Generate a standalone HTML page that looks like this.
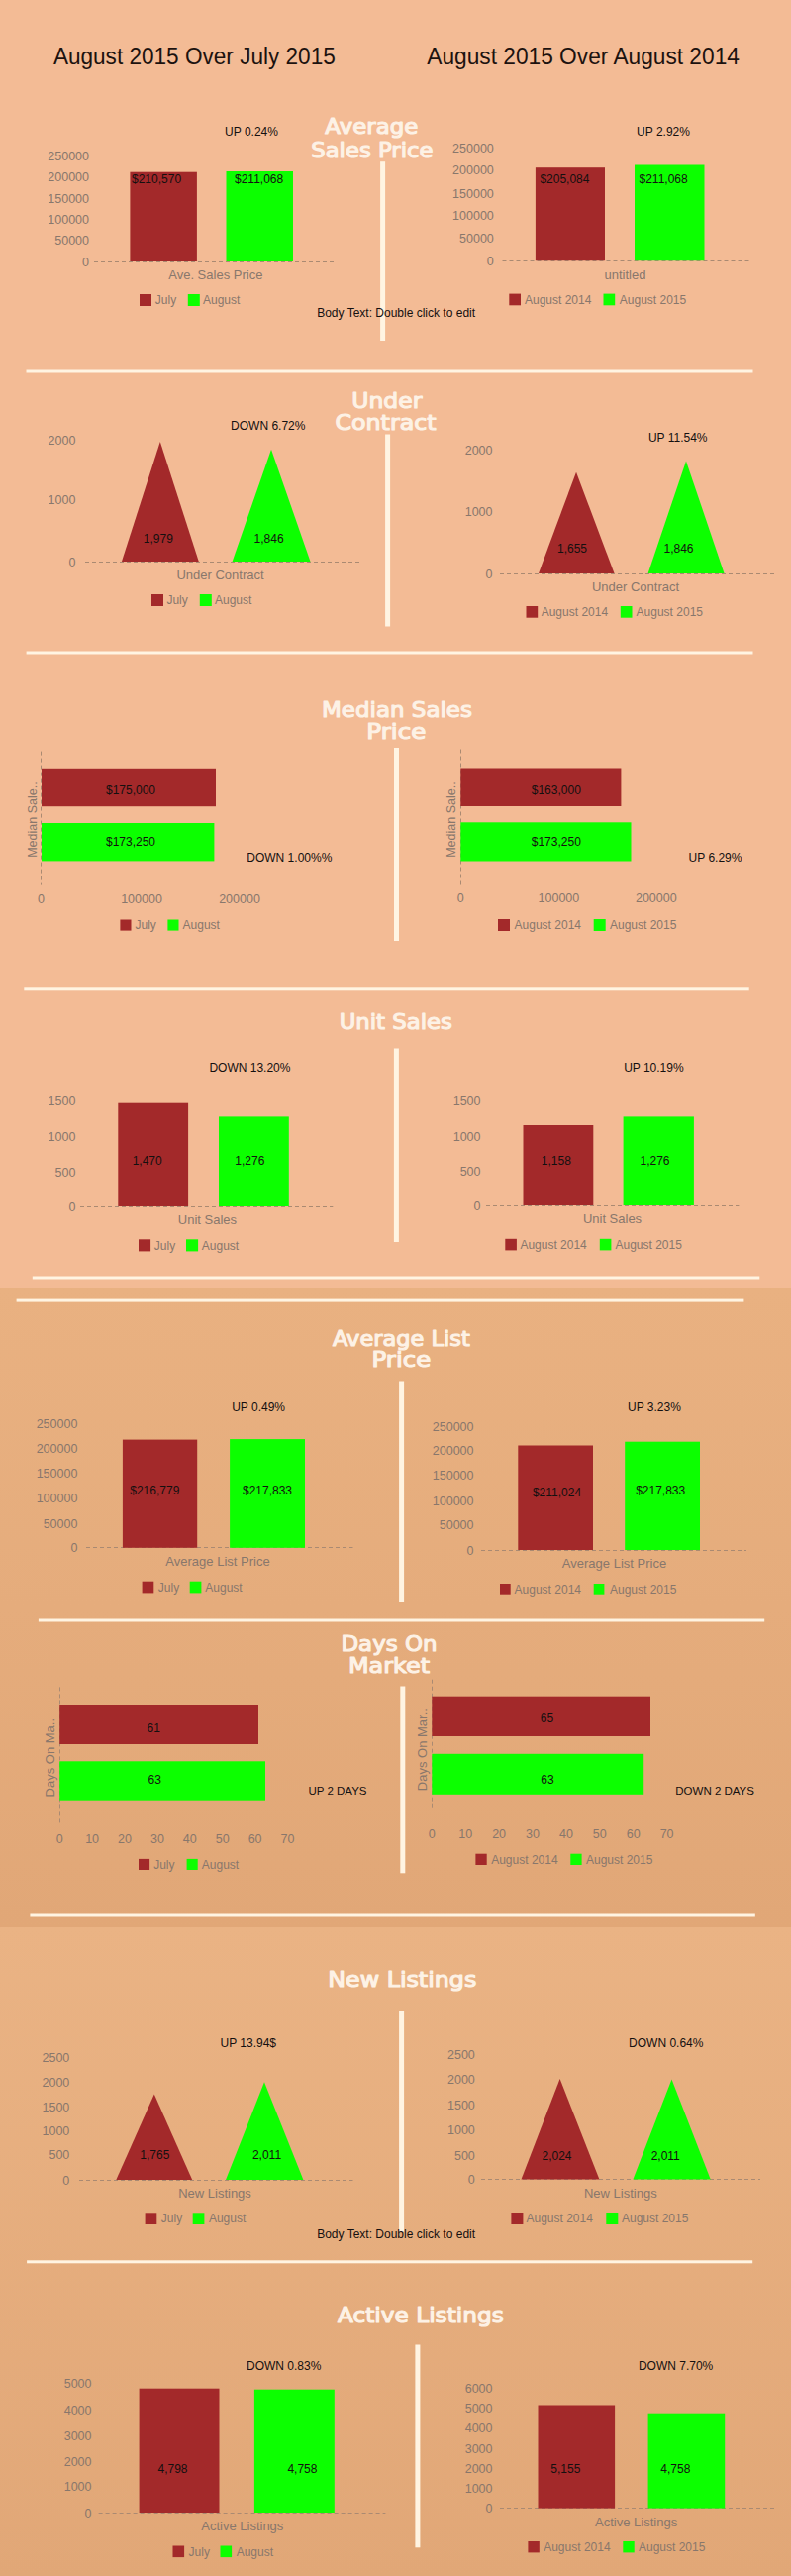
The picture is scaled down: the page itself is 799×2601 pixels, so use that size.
<!DOCTYPE html>
<html><head><meta charset="utf-8"><title>Market Report</title>
<style>
html,body{margin:0;padding:0;width:799px;height:2601px;overflow:hidden;background:#F3BB95;}
svg{display:block;}
</style></head><body>
<svg width="799" height="2601" viewBox="0 0 799 2601">
<rect x="0.0" y="0.0" width="799.0" height="1301.0" fill="#F3BB95"/>
<defs><linearGradient id="g2" x1="0" y1="0" x2="0" y2="1"><stop offset="0" stop-color="#E9B181"/><stop offset="1" stop-color="#E1A777"/></linearGradient><linearGradient id="g3" x1="0" y1="0" x2="0" y2="1"><stop offset="0" stop-color="#EAB384"/><stop offset="1" stop-color="#E1A777"/></linearGradient></defs>
<rect x="0.0" y="1301.0" width="799.0" height="645.0" fill="url(#g2)"/>
<rect x="0.0" y="1946.0" width="799.0" height="655.0" fill="url(#g3)"/>
<line x1="505.0" y1="2532.5" x2="782.6" y2="2532.5" stroke="#AA8A72" stroke-width="1" stroke-dasharray="4,3"/>
<line x1="99.6" y1="2537.5" x2="389.4" y2="2537.5" stroke="#AA8A72" stroke-width="1" stroke-dasharray="4,3"/>
<line x1="486.0" y1="2200.5" x2="768.0" y2="2200.5" stroke="#AA8A72" stroke-width="1" stroke-dasharray="4,3"/>
<line x1="80.0" y1="2201.5" x2="356.5" y2="2201.5" stroke="#AA8A72" stroke-width="1" stroke-dasharray="4,3"/>
<line x1="436.5" y1="1695.7" x2="436.5" y2="1828.0" stroke="#AA8A72" stroke-width="1" stroke-dasharray="4,3"/>
<line x1="60.5" y1="1703.4" x2="60.5" y2="1842.5" stroke="#AA8A72" stroke-width="1" stroke-dasharray="4,3"/>
<line x1="486.0" y1="1565.5" x2="754.0" y2="1565.5" stroke="#AA8A72" stroke-width="1" stroke-dasharray="4,3"/>
<line x1="87.0" y1="1562.5" x2="356.5" y2="1562.5" stroke="#AA8A72" stroke-width="1" stroke-dasharray="4,3"/>
<line x1="491.0" y1="1217.5" x2="746.4" y2="1217.5" stroke="#AA8A72" stroke-width="1" stroke-dasharray="4,3"/>
<line x1="81.0" y1="1218.5" x2="336.3" y2="1218.5" stroke="#AA8A72" stroke-width="1" stroke-dasharray="4,3"/>
<line x1="465.5" y1="756.5" x2="465.5" y2="894.7" stroke="#AA8A72" stroke-width="1" stroke-dasharray="4,3"/>
<line x1="41.5" y1="758.6" x2="41.5" y2="893.6" stroke="#AA8A72" stroke-width="1" stroke-dasharray="4,3"/>
<line x1="505.0" y1="579.5" x2="782.6" y2="579.5" stroke="#AA8A72" stroke-width="1" stroke-dasharray="4,3"/>
<line x1="86.0" y1="567.5" x2="365.0" y2="567.5" stroke="#AA8A72" stroke-width="1" stroke-dasharray="4,3"/>
<line x1="507.5" y1="263.5" x2="757.0" y2="263.5" stroke="#AA8A72" stroke-width="1" stroke-dasharray="4,3"/>
<line x1="95.0" y1="264.5" x2="339.0" y2="264.5" stroke="#AA8A72" stroke-width="1" stroke-dasharray="4,3"/>
<text x="53.9" y="64.5" font-size="23.3" fill="#1C120F" text-anchor="start" font-family="'Liberation Sans', Arial, sans-serif" font-weight="normal" textLength="284.9" lengthAdjust="spacingAndGlyphs">August 2015 Over July 2015</text>
<text x="431.3" y="64.7" font-size="23.3" fill="#1C120F" text-anchor="start" font-family="'Liberation Sans', Arial, sans-serif" font-weight="normal" textLength="315.6" lengthAdjust="spacingAndGlyphs">August 2015 Over August 2014</text>
<text x="375.3" y="135.4" textLength="93.9" lengthAdjust="spacingAndGlyphs" font-size="20.5" fill="#FDF2E6" stroke="#FDF2E6" stroke-width="1.1" stroke-linejoin="round" text-anchor="middle" font-family="'DejaVu Sans', 'Liberation Sans', sans-serif">Average</text>
<text x="375.9" y="158.7" textLength="123.4" lengthAdjust="spacingAndGlyphs" font-size="20.5" fill="#FDF2E6" stroke="#FDF2E6" stroke-width="1.1" stroke-linejoin="round" text-anchor="middle" font-family="'DejaVu Sans', 'Liberation Sans', sans-serif">Sales Price</text>
<rect x="384.1" y="163.2" width="5.0" height="180.8" fill="#FFF4E2"/>
<text x="90.0" y="161.9" font-size="12.5" fill="#88776C" text-anchor="end" font-family="'Liberation Sans', Arial, sans-serif" font-weight="normal">250000</text>
<text x="90.0" y="183.1" font-size="12.5" fill="#88776C" text-anchor="end" font-family="'Liberation Sans', Arial, sans-serif" font-weight="normal">200000</text>
<text x="90.0" y="204.8" font-size="12.5" fill="#88776C" text-anchor="end" font-family="'Liberation Sans', Arial, sans-serif" font-weight="normal">150000</text>
<text x="90.0" y="225.5" font-size="12.5" fill="#88776C" text-anchor="end" font-family="'Liberation Sans', Arial, sans-serif" font-weight="normal">100000</text>
<text x="90.0" y="247.2" font-size="12.5" fill="#88776C" text-anchor="end" font-family="'Liberation Sans', Arial, sans-serif" font-weight="normal">50000</text>
<text x="90.0" y="268.5" font-size="12.5" fill="#88776C" text-anchor="end" font-family="'Liberation Sans', Arial, sans-serif" font-weight="normal">0</text>
<rect x="131.4" y="173.7" width="67.5" height="90.3" fill="#A3292A"/>
<rect x="228.5" y="173.0" width="67.5" height="91.0" fill="#0CFF00"/>
<text x="133.0" y="184.8" font-size="12" fill="#141010" text-anchor="start" font-family="'Liberation Sans', Arial, sans-serif" font-weight="normal">$210,570</text>
<text x="237.0" y="184.8" font-size="12" fill="#141010" text-anchor="start" font-family="'Liberation Sans', Arial, sans-serif" font-weight="normal">$211,068</text>
<text x="254.0" y="137.0" font-size="12" fill="#141010" text-anchor="middle" font-family="'Liberation Sans', Arial, sans-serif" font-weight="normal">UP 0.24%</text>
<text x="217.8" y="281.7" font-size="13" fill="#88776C" text-anchor="middle" font-family="'Liberation Sans', Arial, sans-serif" font-weight="normal">Ave. Sales Price</text>
<rect x="141.0" y="297.0" width="12.0" height="12.0" fill="#A3292A"/>
<rect x="189.8" y="297.0" width="12.0" height="12.0" fill="#0CFF00"/>
<text x="156.8" y="307.3" font-size="12" fill="#88776C" text-anchor="start" font-family="'Liberation Sans', Arial, sans-serif" font-weight="normal">July</text>
<text x="205.0" y="307.3" font-size="12" fill="#88776C" text-anchor="start" font-family="'Liberation Sans', Arial, sans-serif" font-weight="normal">August</text>
<text x="498.8" y="153.5" font-size="12.5" fill="#88776C" text-anchor="end" font-family="'Liberation Sans', Arial, sans-serif" font-weight="normal">250000</text>
<text x="498.8" y="176.3" font-size="12.5" fill="#88776C" text-anchor="end" font-family="'Liberation Sans', Arial, sans-serif" font-weight="normal">200000</text>
<text x="498.8" y="199.5" font-size="12.5" fill="#88776C" text-anchor="end" font-family="'Liberation Sans', Arial, sans-serif" font-weight="normal">150000</text>
<text x="498.8" y="222.2" font-size="12.5" fill="#88776C" text-anchor="end" font-family="'Liberation Sans', Arial, sans-serif" font-weight="normal">100000</text>
<text x="498.8" y="244.5" font-size="12.5" fill="#88776C" text-anchor="end" font-family="'Liberation Sans', Arial, sans-serif" font-weight="normal">50000</text>
<text x="498.8" y="267.7" font-size="12.5" fill="#88776C" text-anchor="end" font-family="'Liberation Sans', Arial, sans-serif" font-weight="normal">0</text>
<rect x="540.9" y="169.2" width="70.1" height="94.0" fill="#A3292A"/>
<rect x="641.0" y="166.5" width="70.5" height="96.7" fill="#0CFF00"/>
<text x="545.4" y="185.3" font-size="12" fill="#141010" text-anchor="start" font-family="'Liberation Sans', Arial, sans-serif" font-weight="normal">$205,084</text>
<text x="645.5" y="185.3" font-size="12" fill="#141010" text-anchor="start" font-family="'Liberation Sans', Arial, sans-serif" font-weight="normal">$211,068</text>
<text x="670.0" y="137.0" font-size="12" fill="#141010" text-anchor="middle" font-family="'Liberation Sans', Arial, sans-serif" font-weight="normal">UP 2.92%</text>
<text x="631.5" y="281.6" font-size="13" fill="#88776C" text-anchor="middle" font-family="'Liberation Sans', Arial, sans-serif" font-weight="normal">untitled</text>
<rect x="514.3" y="296.6" width="11.7" height="11.7" fill="#A3292A"/>
<rect x="609.5" y="296.6" width="11.7" height="11.7" fill="#0CFF00"/>
<text x="530.0" y="306.7" font-size="12" fill="#88776C" text-anchor="start" font-family="'Liberation Sans', Arial, sans-serif" font-weight="normal">August 2014</text>
<text x="625.8" y="306.7" font-size="12" fill="#88776C" text-anchor="start" font-family="'Liberation Sans', Arial, sans-serif" font-weight="normal">August 2015</text>
<text x="320.2" y="320.0" font-size="12" fill="#141010" text-anchor="start" font-family="'Liberation Sans', Arial, sans-serif" font-weight="normal">Body Text: Double click to edit</text>
<rect x="26.5" y="373.5" width="734.0" height="3.0" fill="#FFF4E2"/>
<text x="390.8" y="411.7" textLength="71.1" lengthAdjust="spacingAndGlyphs" font-size="20.5" fill="#FDF2E6" stroke="#FDF2E6" stroke-width="1.1" stroke-linejoin="round" text-anchor="middle" font-family="'DejaVu Sans', 'Liberation Sans', sans-serif">Under</text>
<text x="389.5" y="434.4" textLength="102.1" lengthAdjust="spacingAndGlyphs" font-size="20.5" fill="#FDF2E6" stroke="#FDF2E6" stroke-width="1.1" stroke-linejoin="round" text-anchor="middle" font-family="'DejaVu Sans', 'Liberation Sans', sans-serif">Contract</text>
<rect x="389.1" y="438.5" width="5.0" height="194.0" fill="#FFF4E2"/>
<text x="76.4" y="448.5" font-size="12.5" fill="#88776C" text-anchor="end" font-family="'Liberation Sans', Arial, sans-serif" font-weight="normal">2000</text>
<text x="76.4" y="509.2" font-size="12.5" fill="#88776C" text-anchor="end" font-family="'Liberation Sans', Arial, sans-serif" font-weight="normal">1000</text>
<text x="76.4" y="571.5" font-size="12.5" fill="#88776C" text-anchor="end" font-family="'Liberation Sans', Arial, sans-serif" font-weight="normal">0</text>
<polygon points="161.8,446.0 200.8,567.0 122.9,567.0" fill="#A3292A"/>
<polygon points="274.0,453.7 313.5,567.0 234.6,567.0" fill="#0CFF00"/>
<text x="270.8" y="434.3" font-size="12" fill="#141010" text-anchor="middle" font-family="'Liberation Sans', Arial, sans-serif" font-weight="normal">DOWN 6.72%</text>
<text x="159.8" y="548.3" font-size="12" fill="#141010" text-anchor="middle" font-family="'Liberation Sans', Arial, sans-serif" font-weight="normal">1,979</text>
<text x="271.6" y="548.3" font-size="12" fill="#141010" text-anchor="middle" font-family="'Liberation Sans', Arial, sans-serif" font-weight="normal">1,846</text>
<text x="222.5" y="585.3" font-size="13" fill="#88776C" text-anchor="middle" font-family="'Liberation Sans', Arial, sans-serif" font-weight="normal">Under Contract</text>
<rect x="153.0" y="600.0" width="12.0" height="12.0" fill="#A3292A"/>
<rect x="201.8" y="600.0" width="12.0" height="12.0" fill="#0CFF00"/>
<text x="168.4" y="610.3" font-size="12" fill="#88776C" text-anchor="start" font-family="'Liberation Sans', Arial, sans-serif" font-weight="normal">July</text>
<text x="217.0" y="610.3" font-size="12" fill="#88776C" text-anchor="start" font-family="'Liberation Sans', Arial, sans-serif" font-weight="normal">August</text>
<text x="497.5" y="459.1" font-size="12.5" fill="#88776C" text-anchor="end" font-family="'Liberation Sans', Arial, sans-serif" font-weight="normal">2000</text>
<text x="497.5" y="521.0" font-size="12.5" fill="#88776C" text-anchor="end" font-family="'Liberation Sans', Arial, sans-serif" font-weight="normal">1000</text>
<text x="497.5" y="583.5" font-size="12.5" fill="#88776C" text-anchor="end" font-family="'Liberation Sans', Arial, sans-serif" font-weight="normal">0</text>
<polygon points="582.0,476.7 620.5,579.0 544.0,579.0" fill="#A3292A"/>
<polygon points="693.0,465.4 731.5,579.0 654.6,579.0" fill="#0CFF00"/>
<text x="684.7" y="445.7" font-size="12" fill="#141010" text-anchor="middle" font-family="'Liberation Sans', Arial, sans-serif" font-weight="normal">UP 11.54%</text>
<text x="578.0" y="558.0" font-size="12" fill="#141010" text-anchor="middle" font-family="'Liberation Sans', Arial, sans-serif" font-weight="normal">1,655</text>
<text x="685.5" y="558.0" font-size="12" fill="#141010" text-anchor="middle" font-family="'Liberation Sans', Arial, sans-serif" font-weight="normal">1,846</text>
<text x="642.0" y="596.7" font-size="13" fill="#88776C" text-anchor="middle" font-family="'Liberation Sans', Arial, sans-serif" font-weight="normal">Under Contract</text>
<rect x="531.5" y="612.0" width="11.7" height="11.7" fill="#A3292A"/>
<rect x="626.8" y="612.0" width="11.7" height="11.7" fill="#0CFF00"/>
<text x="546.7" y="622.1" font-size="12" fill="#88776C" text-anchor="start" font-family="'Liberation Sans', Arial, sans-serif" font-weight="normal">August 2014</text>
<text x="642.6" y="622.1" font-size="12" fill="#88776C" text-anchor="start" font-family="'Liberation Sans', Arial, sans-serif" font-weight="normal">August 2015</text>
<rect x="26.6" y="657.5" width="733.9" height="3.0" fill="#FFF4E2"/>
<text x="401.0" y="724.4" textLength="151.9" lengthAdjust="spacingAndGlyphs" font-size="20.5" fill="#FDF2E6" stroke="#FDF2E6" stroke-width="1.1" stroke-linejoin="round" text-anchor="middle" font-family="'DejaVu Sans', 'Liberation Sans', sans-serif">Median Sales</text>
<text x="400.3" y="746.4" textLength="60.1" lengthAdjust="spacingAndGlyphs" font-size="20.5" fill="#FDF2E6" stroke="#FDF2E6" stroke-width="1.1" stroke-linejoin="round" text-anchor="middle" font-family="'DejaVu Sans', 'Liberation Sans', sans-serif">Price</text>
<rect x="398.0" y="755.0" width="5.0" height="195.0" fill="#FFF4E2"/>
<rect x="42.0" y="775.8" width="176.0" height="38.4" fill="#A3292A"/>
<rect x="42.0" y="831.0" width="174.4" height="38.4" fill="#0CFF00"/>
<text transform="translate(37.2 865.8) rotate(-90)" x="0" y="0" font-size="12.5" fill="#88776C" font-family="'Liberation Sans', Arial, sans-serif">Median Sale..</text>
<text x="132.0" y="802.3" font-size="12" fill="#141010" text-anchor="middle" font-family="'Liberation Sans', Arial, sans-serif" font-weight="normal">$175,000</text>
<text x="132.0" y="853.9" font-size="12" fill="#141010" text-anchor="middle" font-family="'Liberation Sans', Arial, sans-serif" font-weight="normal">$173,250</text>
<text x="249.3" y="869.6" font-size="12" fill="#141010" text-anchor="start" font-family="'Liberation Sans', Arial, sans-serif" font-weight="normal">DOWN 1.00%%</text>
<text x="41.5" y="912.3" font-size="12.5" fill="#88776C" text-anchor="middle" font-family="'Liberation Sans', Arial, sans-serif" font-weight="normal">0</text>
<text x="143.0" y="912.3" font-size="12.5" fill="#88776C" text-anchor="middle" font-family="'Liberation Sans', Arial, sans-serif" font-weight="normal">100000</text>
<text x="242.0" y="912.3" font-size="12.5" fill="#88776C" text-anchor="middle" font-family="'Liberation Sans', Arial, sans-serif" font-weight="normal">200000</text>
<rect x="121.4" y="928.5" width="11.1" height="11.1" fill="#A3292A"/>
<rect x="169.4" y="928.5" width="11.1" height="11.1" fill="#0CFF00"/>
<text x="136.5" y="938.3" font-size="12" fill="#88776C" text-anchor="start" font-family="'Liberation Sans', Arial, sans-serif" font-weight="normal">July</text>
<text x="184.6" y="938.3" font-size="12" fill="#88776C" text-anchor="start" font-family="'Liberation Sans', Arial, sans-serif" font-weight="normal">August</text>
<rect x="465.3" y="775.5" width="162.1" height="38.5" fill="#A3292A"/>
<rect x="465.3" y="830.3" width="172.2" height="39.2" fill="#0CFF00"/>
<text transform="translate(460.2 865.8) rotate(-90)" x="0" y="0" font-size="12.5" fill="#88776C" font-family="'Liberation Sans', Arial, sans-serif">Median Sale..</text>
<text x="561.8" y="802.3" font-size="12" fill="#141010" text-anchor="middle" font-family="'Liberation Sans', Arial, sans-serif" font-weight="normal">$163,000</text>
<text x="561.8" y="853.6" font-size="12" fill="#141010" text-anchor="middle" font-family="'Liberation Sans', Arial, sans-serif" font-weight="normal">$173,250</text>
<text x="695.6" y="870.0" font-size="12" fill="#141010" text-anchor="start" font-family="'Liberation Sans', Arial, sans-serif" font-weight="normal">UP 6.29%</text>
<text x="465.3" y="911.2" font-size="12.5" fill="#88776C" text-anchor="middle" font-family="'Liberation Sans', Arial, sans-serif" font-weight="normal">0</text>
<text x="564.4" y="911.2" font-size="12.5" fill="#88776C" text-anchor="middle" font-family="'Liberation Sans', Arial, sans-serif" font-weight="normal">100000</text>
<text x="662.8" y="911.2" font-size="12.5" fill="#88776C" text-anchor="middle" font-family="'Liberation Sans', Arial, sans-serif" font-weight="normal">200000</text>
<rect x="503.0" y="928.0" width="12.0" height="12.0" fill="#A3292A"/>
<rect x="599.7" y="928.0" width="12.0" height="12.0" fill="#0CFF00"/>
<text x="519.6" y="938.3" font-size="12" fill="#88776C" text-anchor="start" font-family="'Liberation Sans', Arial, sans-serif" font-weight="normal">August 2014</text>
<text x="616.0" y="938.3" font-size="12" fill="#88776C" text-anchor="start" font-family="'Liberation Sans', Arial, sans-serif" font-weight="normal">August 2015</text>
<rect x="24.3" y="997.3" width="732.4" height="3.0" fill="#FFF4E2"/>
<text x="399.8" y="1039.4" textLength="114.3" lengthAdjust="spacingAndGlyphs" font-size="20.5" fill="#FDF2E6" stroke="#FDF2E6" stroke-width="1.1" stroke-linejoin="round" text-anchor="middle" font-family="'DejaVu Sans', 'Liberation Sans', sans-serif">Unit Sales</text>
<rect x="397.9" y="1058.5" width="5.0" height="195.5" fill="#FFF4E2"/>
<text x="76.4" y="1116.2" font-size="12.5" fill="#88776C" text-anchor="end" font-family="'Liberation Sans', Arial, sans-serif" font-weight="normal">1500</text>
<text x="76.4" y="1151.5" font-size="12.5" fill="#88776C" text-anchor="end" font-family="'Liberation Sans', Arial, sans-serif" font-weight="normal">1000</text>
<text x="76.4" y="1187.5" font-size="12.5" fill="#88776C" text-anchor="end" font-family="'Liberation Sans', Arial, sans-serif" font-weight="normal">500</text>
<text x="76.4" y="1222.5" font-size="12.5" fill="#88776C" text-anchor="end" font-family="'Liberation Sans', Arial, sans-serif" font-weight="normal">0</text>
<rect x="119.3" y="1113.7" width="70.8" height="104.3" fill="#A3292A"/>
<rect x="221.0" y="1127.4" width="70.8" height="90.6" fill="#0CFF00"/>
<text x="252.4" y="1082.1" font-size="12" fill="#141010" text-anchor="middle" font-family="'Liberation Sans', Arial, sans-serif" font-weight="normal">DOWN 13.20%</text>
<text x="148.7" y="1175.7" font-size="12" fill="#141010" text-anchor="middle" font-family="'Liberation Sans', Arial, sans-serif" font-weight="normal">1,470</text>
<text x="252.3" y="1175.7" font-size="12" fill="#141010" text-anchor="middle" font-family="'Liberation Sans', Arial, sans-serif" font-weight="normal">1,276</text>
<text x="209.4" y="1236.3" font-size="13" fill="#88776C" text-anchor="middle" font-family="'Liberation Sans', Arial, sans-serif" font-weight="normal">Unit Sales</text>
<rect x="140.0" y="1251.3" width="12.1" height="12.1" fill="#A3292A"/>
<rect x="188.0" y="1251.3" width="12.1" height="12.1" fill="#0CFF00"/>
<text x="155.8" y="1261.6" font-size="12" fill="#88776C" text-anchor="start" font-family="'Liberation Sans', Arial, sans-serif" font-weight="normal">July</text>
<text x="203.8" y="1261.6" font-size="12" fill="#88776C" text-anchor="start" font-family="'Liberation Sans', Arial, sans-serif" font-weight="normal">August</text>
<text x="485.5" y="1116.2" font-size="12.5" fill="#88776C" text-anchor="end" font-family="'Liberation Sans', Arial, sans-serif" font-weight="normal">1500</text>
<text x="485.5" y="1151.5" font-size="12.5" fill="#88776C" text-anchor="end" font-family="'Liberation Sans', Arial, sans-serif" font-weight="normal">1000</text>
<text x="485.5" y="1186.5" font-size="12.5" fill="#88776C" text-anchor="end" font-family="'Liberation Sans', Arial, sans-serif" font-weight="normal">500</text>
<text x="485.5" y="1221.5" font-size="12.5" fill="#88776C" text-anchor="end" font-family="'Liberation Sans', Arial, sans-serif" font-weight="normal">0</text>
<rect x="528.5" y="1136.0" width="70.8" height="81.0" fill="#A3292A"/>
<rect x="629.6" y="1127.4" width="71.3" height="89.6" fill="#0CFF00"/>
<text x="660.4" y="1082.1" font-size="12" fill="#141010" text-anchor="middle" font-family="'Liberation Sans', Arial, sans-serif" font-weight="normal">UP 10.19%</text>
<text x="561.8" y="1175.7" font-size="12" fill="#141010" text-anchor="middle" font-family="'Liberation Sans', Arial, sans-serif" font-weight="normal">1,158</text>
<text x="661.5" y="1175.7" font-size="12" fill="#141010" text-anchor="middle" font-family="'Liberation Sans', Arial, sans-serif" font-weight="normal">1,276</text>
<text x="618.5" y="1235.2" font-size="13" fill="#88776C" text-anchor="middle" font-family="'Liberation Sans', Arial, sans-serif" font-weight="normal">Unit Sales</text>
<rect x="510.3" y="1250.8" width="11.6" height="11.6" fill="#A3292A"/>
<rect x="605.8" y="1250.8" width="11.6" height="11.6" fill="#0CFF00"/>
<text x="525.4" y="1260.9" font-size="12" fill="#88776C" text-anchor="start" font-family="'Liberation Sans', Arial, sans-serif" font-weight="normal">August 2014</text>
<text x="621.5" y="1260.9" font-size="12" fill="#88776C" text-anchor="start" font-family="'Liberation Sans', Arial, sans-serif" font-weight="normal">August 2015</text>
<rect x="32.8" y="1288.5" width="734.5" height="3.0" fill="#FFF4E2"/>
<rect x="16.6" y="1311.6" width="734.8" height="3.0" fill="#FFF4E2"/>
<text x="405.4" y="1358.6" textLength="138.7" lengthAdjust="spacingAndGlyphs" font-size="20.5" fill="#FDF2E6" stroke="#FDF2E6" stroke-width="1.1" stroke-linejoin="round" text-anchor="middle" font-family="'DejaVu Sans', 'Liberation Sans', sans-serif">Average List</text>
<text x="405.4" y="1380.0" textLength="59.7" lengthAdjust="spacingAndGlyphs" font-size="20.5" fill="#FDF2E6" stroke="#FDF2E6" stroke-width="1.1" stroke-linejoin="round" text-anchor="middle" font-family="'DejaVu Sans', 'Liberation Sans', sans-serif">Price</text>
<rect x="403.1" y="1394.5" width="5.0" height="223.5" fill="#FFF4E2"/>
<text x="78.4" y="1441.5" font-size="12.5" fill="#88776C" text-anchor="end" font-family="'Liberation Sans', Arial, sans-serif" font-weight="normal">250000</text>
<text x="78.4" y="1466.7" font-size="12.5" fill="#88776C" text-anchor="end" font-family="'Liberation Sans', Arial, sans-serif" font-weight="normal">200000</text>
<text x="78.4" y="1492.0" font-size="12.5" fill="#88776C" text-anchor="end" font-family="'Liberation Sans', Arial, sans-serif" font-weight="normal">150000</text>
<text x="78.4" y="1517.3" font-size="12.5" fill="#88776C" text-anchor="end" font-family="'Liberation Sans', Arial, sans-serif" font-weight="normal">100000</text>
<text x="78.4" y="1542.5" font-size="12.5" fill="#88776C" text-anchor="end" font-family="'Liberation Sans', Arial, sans-serif" font-weight="normal">50000</text>
<text x="78.4" y="1567.3" font-size="12.5" fill="#88776C" text-anchor="end" font-family="'Liberation Sans', Arial, sans-serif" font-weight="normal">0</text>
<rect x="123.9" y="1453.6" width="75.3" height="109.2" fill="#A3292A"/>
<rect x="232.1" y="1453.1" width="75.9" height="109.7" fill="#0CFF00"/>
<text x="261.1" y="1424.5" font-size="12" fill="#141010" text-anchor="middle" font-family="'Liberation Sans', Arial, sans-serif" font-weight="normal">UP 0.49%</text>
<text x="156.3" y="1509.0" font-size="12" fill="#141010" text-anchor="middle" font-family="'Liberation Sans', Arial, sans-serif" font-weight="normal">$216,779</text>
<text x="270.0" y="1509.0" font-size="12" fill="#141010" text-anchor="middle" font-family="'Liberation Sans', Arial, sans-serif" font-weight="normal">$217,833</text>
<text x="220.0" y="1581.2" font-size="13" fill="#88776C" text-anchor="middle" font-family="'Liberation Sans', Arial, sans-serif" font-weight="normal">Average List Price</text>
<rect x="143.6" y="1596.7" width="11.7" height="11.7" fill="#A3292A"/>
<rect x="191.7" y="1596.7" width="11.7" height="11.7" fill="#0CFF00"/>
<text x="159.8" y="1606.8" font-size="12" fill="#88776C" text-anchor="start" font-family="'Liberation Sans', Arial, sans-serif" font-weight="normal">July</text>
<text x="207.3" y="1606.8" font-size="12" fill="#88776C" text-anchor="start" font-family="'Liberation Sans', Arial, sans-serif" font-weight="normal">August</text>
<text x="478.5" y="1444.5" font-size="12.5" fill="#88776C" text-anchor="end" font-family="'Liberation Sans', Arial, sans-serif" font-weight="normal">250000</text>
<text x="478.5" y="1469.1" font-size="12.5" fill="#88776C" text-anchor="end" font-family="'Liberation Sans', Arial, sans-serif" font-weight="normal">200000</text>
<text x="478.5" y="1494.3" font-size="12.5" fill="#88776C" text-anchor="end" font-family="'Liberation Sans', Arial, sans-serif" font-weight="normal">150000</text>
<text x="478.5" y="1519.5" font-size="12.5" fill="#88776C" text-anchor="end" font-family="'Liberation Sans', Arial, sans-serif" font-weight="normal">100000</text>
<text x="478.5" y="1544.2" font-size="12.5" fill="#88776C" text-anchor="end" font-family="'Liberation Sans', Arial, sans-serif" font-weight="normal">50000</text>
<text x="478.5" y="1569.5" font-size="12.5" fill="#88776C" text-anchor="end" font-family="'Liberation Sans', Arial, sans-serif" font-weight="normal">0</text>
<rect x="523.3" y="1459.5" width="75.7" height="105.5" fill="#A3292A"/>
<rect x="631.2" y="1455.7" width="75.8" height="109.3" fill="#0CFF00"/>
<text x="660.9" y="1424.7" font-size="12" fill="#141010" text-anchor="middle" font-family="'Liberation Sans', Arial, sans-serif" font-weight="normal">UP 3.23%</text>
<text x="562.5" y="1511.1" font-size="12" fill="#141010" text-anchor="middle" font-family="'Liberation Sans', Arial, sans-serif" font-weight="normal">$211,024</text>
<text x="667.2" y="1508.6" font-size="12" fill="#141010" text-anchor="middle" font-family="'Liberation Sans', Arial, sans-serif" font-weight="normal">$217,833</text>
<text x="620.5" y="1582.7" font-size="13" fill="#88776C" text-anchor="middle" font-family="'Liberation Sans', Arial, sans-serif" font-weight="normal">Average List Price</text>
<rect x="505.0" y="1599.0" width="10.7" height="10.7" fill="#A3292A"/>
<rect x="599.7" y="1599.0" width="10.7" height="10.7" fill="#0CFF00"/>
<text x="519.6" y="1608.6" font-size="12" fill="#88776C" text-anchor="start" font-family="'Liberation Sans', Arial, sans-serif" font-weight="normal">August 2014</text>
<text x="616.0" y="1608.6" font-size="12" fill="#88776C" text-anchor="start" font-family="'Liberation Sans', Arial, sans-serif" font-weight="normal">August 2015</text>
<rect x="38.9" y="1634.5" width="733.3" height="3.0" fill="#FFF4E2"/>
<text x="393.0" y="1666.7" textLength="97.1" lengthAdjust="spacingAndGlyphs" font-size="20.5" fill="#FDF2E6" stroke="#FDF2E6" stroke-width="1.1" stroke-linejoin="round" text-anchor="middle" font-family="'DejaVu Sans', 'Liberation Sans', sans-serif">Days On</text>
<text x="393.0" y="1688.8" textLength="82.1" lengthAdjust="spacingAndGlyphs" font-size="20.5" fill="#FDF2E6" stroke="#FDF2E6" stroke-width="1.1" stroke-linejoin="round" text-anchor="middle" font-family="'DejaVu Sans', 'Liberation Sans', sans-serif">Market</text>
<rect x="404.3" y="1702.5" width="5.0" height="188.8" fill="#FFF4E2"/>
<rect x="60.2" y="1722.0" width="200.8" height="39.0" fill="#A3292A"/>
<rect x="60.2" y="1778.3" width="207.8" height="39.4" fill="#0CFF00"/>
<text x="155.2" y="1748.7" font-size="12" fill="#141010" text-anchor="middle" font-family="'Liberation Sans', Arial, sans-serif" font-weight="normal">61</text>
<text x="156.3" y="1801.3" font-size="12" fill="#141010" text-anchor="middle" font-family="'Liberation Sans', Arial, sans-serif" font-weight="normal">63</text>
<text transform="translate(55.3 1814.4) rotate(-90)" x="0" y="0" font-size="13" fill="#88776C" font-family="'Liberation Sans', Arial, sans-serif">Days On Ma..</text>
<text x="311.5" y="1811.7" font-size="11.5" fill="#141010" text-anchor="start" font-family="'Liberation Sans', Arial, sans-serif" font-weight="normal">UP 2 DAYS</text>
<text x="60.2" y="1860.7" font-size="12.5" fill="#88776C" text-anchor="middle" font-family="'Liberation Sans', Arial, sans-serif" font-weight="normal">0</text>
<text x="93.1" y="1860.7" font-size="12.5" fill="#88776C" text-anchor="middle" font-family="'Liberation Sans', Arial, sans-serif" font-weight="normal">10</text>
<text x="126.0" y="1860.7" font-size="12.5" fill="#88776C" text-anchor="middle" font-family="'Liberation Sans', Arial, sans-serif" font-weight="normal">20</text>
<text x="158.9" y="1860.7" font-size="12.5" fill="#88776C" text-anchor="middle" font-family="'Liberation Sans', Arial, sans-serif" font-weight="normal">30</text>
<text x="191.8" y="1860.7" font-size="12.5" fill="#88776C" text-anchor="middle" font-family="'Liberation Sans', Arial, sans-serif" font-weight="normal">40</text>
<text x="224.7" y="1860.7" font-size="12.5" fill="#88776C" text-anchor="middle" font-family="'Liberation Sans', Arial, sans-serif" font-weight="normal">50</text>
<text x="257.6" y="1860.7" font-size="12.5" fill="#88776C" text-anchor="middle" font-family="'Liberation Sans', Arial, sans-serif" font-weight="normal">60</text>
<text x="290.5" y="1860.7" font-size="12.5" fill="#88776C" text-anchor="middle" font-family="'Liberation Sans', Arial, sans-serif" font-weight="normal">70</text>
<rect x="140.0" y="1876.9" width="11.1" height="11.1" fill="#A3292A"/>
<rect x="188.6" y="1876.9" width="11.1" height="11.1" fill="#0CFF00"/>
<text x="155.2" y="1886.7" font-size="12" fill="#88776C" text-anchor="start" font-family="'Liberation Sans', Arial, sans-serif" font-weight="normal">July</text>
<text x="203.8" y="1886.7" font-size="12" fill="#88776C" text-anchor="start" font-family="'Liberation Sans', Arial, sans-serif" font-weight="normal">August</text>
<rect x="436.3" y="1712.7" width="220.7" height="40.3" fill="#A3292A"/>
<rect x="436.3" y="1770.8" width="213.9" height="41.0" fill="#0CFF00"/>
<text x="552.4" y="1738.5" font-size="12" fill="#141010" text-anchor="middle" font-family="'Liberation Sans', Arial, sans-serif" font-weight="normal">65</text>
<text x="553.0" y="1801.0" font-size="12" fill="#141010" text-anchor="middle" font-family="'Liberation Sans', Arial, sans-serif" font-weight="normal">63</text>
<text transform="translate(431.4 1808.2) rotate(-90)" x="0" y="0" font-size="13" fill="#88776C" font-family="'Liberation Sans', Arial, sans-serif">Days On Mar..</text>
<text x="682.3" y="1811.5" font-size="11.5" fill="#141010" text-anchor="start" font-family="'Liberation Sans', Arial, sans-serif" font-weight="normal">DOWN 2 DAYS</text>
<text x="436.3" y="1855.5" font-size="12.5" fill="#88776C" text-anchor="middle" font-family="'Liberation Sans', Arial, sans-serif" font-weight="normal">0</text>
<text x="470.2" y="1855.5" font-size="12.5" fill="#88776C" text-anchor="middle" font-family="'Liberation Sans', Arial, sans-serif" font-weight="normal">10</text>
<text x="504.1" y="1855.5" font-size="12.5" fill="#88776C" text-anchor="middle" font-family="'Liberation Sans', Arial, sans-serif" font-weight="normal">20</text>
<text x="538.0" y="1855.5" font-size="12.5" fill="#88776C" text-anchor="middle" font-family="'Liberation Sans', Arial, sans-serif" font-weight="normal">30</text>
<text x="571.9" y="1855.5" font-size="12.5" fill="#88776C" text-anchor="middle" font-family="'Liberation Sans', Arial, sans-serif" font-weight="normal">40</text>
<text x="605.8" y="1855.5" font-size="12.5" fill="#88776C" text-anchor="middle" font-family="'Liberation Sans', Arial, sans-serif" font-weight="normal">50</text>
<text x="639.7" y="1855.5" font-size="12.5" fill="#88776C" text-anchor="middle" font-family="'Liberation Sans', Arial, sans-serif" font-weight="normal">60</text>
<text x="673.6" y="1855.5" font-size="12.5" fill="#88776C" text-anchor="middle" font-family="'Liberation Sans', Arial, sans-serif" font-weight="normal">70</text>
<rect x="480.4" y="1871.7" width="11.3" height="11.3" fill="#A3292A"/>
<rect x="576.3" y="1871.7" width="11.3" height="11.3" fill="#0CFF00"/>
<text x="496.2" y="1881.6" font-size="12" fill="#88776C" text-anchor="start" font-family="'Liberation Sans', Arial, sans-serif" font-weight="normal">August 2014</text>
<text x="592.0" y="1881.6" font-size="12" fill="#88776C" text-anchor="start" font-family="'Liberation Sans', Arial, sans-serif" font-weight="normal">August 2015</text>
<rect x="30.4" y="1932.5" width="732.4" height="3.0" fill="#FFF4E2"/>
<text x="406.3" y="2006.0" textLength="150.1" lengthAdjust="spacingAndGlyphs" font-size="20.5" fill="#FDF2E6" stroke="#FDF2E6" stroke-width="1.1" stroke-linejoin="round" text-anchor="middle" font-family="'DejaVu Sans', 'Liberation Sans', sans-serif">New Listings</text>
<rect x="403.1" y="2031.0" width="5.0" height="222.6" fill="#FFF4E2"/>
<text x="70.3" y="2082.0" font-size="12.5" fill="#88776C" text-anchor="end" font-family="'Liberation Sans', Arial, sans-serif" font-weight="normal">2500</text>
<text x="70.3" y="2107.3" font-size="12.5" fill="#88776C" text-anchor="end" font-family="'Liberation Sans', Arial, sans-serif" font-weight="normal">2000</text>
<text x="70.3" y="2131.6" font-size="12.5" fill="#88776C" text-anchor="end" font-family="'Liberation Sans', Arial, sans-serif" font-weight="normal">1500</text>
<text x="70.3" y="2155.9" font-size="12.5" fill="#88776C" text-anchor="end" font-family="'Liberation Sans', Arial, sans-serif" font-weight="normal">1000</text>
<text x="70.3" y="2180.1" font-size="12.5" fill="#88776C" text-anchor="end" font-family="'Liberation Sans', Arial, sans-serif" font-weight="normal">500</text>
<text x="70.3" y="2205.5" font-size="12.5" fill="#88776C" text-anchor="end" font-family="'Liberation Sans', Arial, sans-serif" font-weight="normal">0</text>
<polygon points="155.8,2114.5 194.2,2201.0 117.3,2201.0" fill="#A3292A"/>
<polygon points="267.0,2102.3 306.4,2201.0 228.0,2201.0" fill="#0CFF00"/>
<text x="250.8" y="2066.7" font-size="12" fill="#141010" text-anchor="middle" font-family="'Liberation Sans', Arial, sans-serif" font-weight="normal">UP 13.94$</text>
<text x="156.3" y="2179.9" font-size="12" fill="#141010" text-anchor="middle" font-family="'Liberation Sans', Arial, sans-serif" font-weight="normal">1,765</text>
<text x="269.5" y="2179.9" font-size="12" fill="#141010" text-anchor="middle" font-family="'Liberation Sans', Arial, sans-serif" font-weight="normal">2,011</text>
<text x="217.0" y="2219.3" font-size="13" fill="#88776C" text-anchor="middle" font-family="'Liberation Sans', Arial, sans-serif" font-weight="normal">New Listings</text>
<rect x="146.6" y="2234.3" width="11.7" height="11.7" fill="#A3292A"/>
<rect x="194.7" y="2234.3" width="11.7" height="11.7" fill="#0CFF00"/>
<text x="162.8" y="2244.4" font-size="12" fill="#88776C" text-anchor="start" font-family="'Liberation Sans', Arial, sans-serif" font-weight="normal">July</text>
<text x="210.9" y="2244.4" font-size="12" fill="#88776C" text-anchor="start" font-family="'Liberation Sans', Arial, sans-serif" font-weight="normal">August</text>
<text x="479.8" y="2078.9" font-size="12.5" fill="#88776C" text-anchor="end" font-family="'Liberation Sans', Arial, sans-serif" font-weight="normal">2500</text>
<text x="479.8" y="2104.1" font-size="12.5" fill="#88776C" text-anchor="end" font-family="'Liberation Sans', Arial, sans-serif" font-weight="normal">2000</text>
<text x="479.8" y="2130.0" font-size="12.5" fill="#88776C" text-anchor="end" font-family="'Liberation Sans', Arial, sans-serif" font-weight="normal">1500</text>
<text x="479.8" y="2154.5" font-size="12.5" fill="#88776C" text-anchor="end" font-family="'Liberation Sans', Arial, sans-serif" font-weight="normal">1000</text>
<text x="479.8" y="2180.5" font-size="12.5" fill="#88776C" text-anchor="end" font-family="'Liberation Sans', Arial, sans-serif" font-weight="normal">500</text>
<text x="479.8" y="2205.1" font-size="12.5" fill="#88776C" text-anchor="end" font-family="'Liberation Sans', Arial, sans-serif" font-weight="normal">0</text>
<polygon points="565.6,2099.0 605.4,2200.6 526.5,2200.6" fill="#A3292A"/>
<polygon points="678.5,2099.6 717.7,2200.6 639.4,2200.6" fill="#0CFF00"/>
<text x="672.8" y="2066.7" font-size="12" fill="#141010" text-anchor="middle" font-family="'Liberation Sans', Arial, sans-serif" font-weight="normal">DOWN 0.64%</text>
<text x="562.5" y="2180.9" font-size="12" fill="#141010" text-anchor="middle" font-family="'Liberation Sans', Arial, sans-serif" font-weight="normal">2,024</text>
<text x="672.2" y="2180.9" font-size="12" fill="#141010" text-anchor="middle" font-family="'Liberation Sans', Arial, sans-serif" font-weight="normal">2,011</text>
<text x="626.8" y="2219.1" font-size="13" fill="#88776C" text-anchor="middle" font-family="'Liberation Sans', Arial, sans-serif" font-weight="normal">New Listings</text>
<rect x="516.4" y="2234.0" width="12.0" height="12.0" fill="#A3292A"/>
<rect x="612.3" y="2234.0" width="12.0" height="12.0" fill="#0CFF00"/>
<text x="531.5" y="2244.3" font-size="12" fill="#88776C" text-anchor="start" font-family="'Liberation Sans', Arial, sans-serif" font-weight="normal">August 2014</text>
<text x="628.0" y="2244.3" font-size="12" fill="#88776C" text-anchor="start" font-family="'Liberation Sans', Arial, sans-serif" font-weight="normal">August 2015</text>
<text x="320.2" y="2260.3" font-size="12" fill="#141010" text-anchor="start" font-family="'Liberation Sans', Arial, sans-serif" font-weight="normal">Body Text: Double click to edit</text>
<rect x="27.1" y="2282.3" width="733.1" height="3.0" fill="#FFF4E2"/>
<text x="424.9" y="2345.0" textLength="167.7" lengthAdjust="spacingAndGlyphs" font-size="20.5" fill="#FDF2E6" stroke="#FDF2E6" stroke-width="1.1" stroke-linejoin="round" text-anchor="middle" font-family="'DejaVu Sans', 'Liberation Sans', sans-serif">Active Listings</text>
<rect x="419.4" y="2367.5" width="5.0" height="204.8" fill="#FFF4E2"/>
<text x="92.5" y="2411.1" font-size="12.5" fill="#88776C" text-anchor="end" font-family="'Liberation Sans', Arial, sans-serif" font-weight="normal">5000</text>
<text x="92.5" y="2437.5" font-size="12.5" fill="#88776C" text-anchor="end" font-family="'Liberation Sans', Arial, sans-serif" font-weight="normal">4000</text>
<text x="92.5" y="2463.7" font-size="12.5" fill="#88776C" text-anchor="end" font-family="'Liberation Sans', Arial, sans-serif" font-weight="normal">3000</text>
<text x="92.5" y="2489.5" font-size="12.5" fill="#88776C" text-anchor="end" font-family="'Liberation Sans', Arial, sans-serif" font-weight="normal">2000</text>
<text x="92.5" y="2515.3" font-size="12.5" fill="#88776C" text-anchor="end" font-family="'Liberation Sans', Arial, sans-serif" font-weight="normal">1000</text>
<text x="92.5" y="2541.5" font-size="12.5" fill="#88776C" text-anchor="end" font-family="'Liberation Sans', Arial, sans-serif" font-weight="normal">0</text>
<rect x="140.6" y="2411.7" width="80.9" height="125.3" fill="#A3292A"/>
<rect x="256.9" y="2412.7" width="80.9" height="124.3" fill="#0CFF00"/>
<text x="286.7" y="2392.7" font-size="12" fill="#141010" text-anchor="middle" font-family="'Liberation Sans', Arial, sans-serif" font-weight="normal">DOWN 0.83%</text>
<text x="174.5" y="2496.9" font-size="12" fill="#141010" text-anchor="middle" font-family="'Liberation Sans', Arial, sans-serif" font-weight="normal">4,798</text>
<text x="305.4" y="2496.9" font-size="12" fill="#141010" text-anchor="middle" font-family="'Liberation Sans', Arial, sans-serif" font-weight="normal">4,758</text>
<text x="244.8" y="2555.0" font-size="13" fill="#88776C" text-anchor="middle" font-family="'Liberation Sans', Arial, sans-serif" font-weight="normal">Active Listings</text>
<rect x="174.5" y="2570.5" width="11.6" height="11.6" fill="#A3292A"/>
<rect x="222.5" y="2570.5" width="11.6" height="11.6" fill="#0CFF00"/>
<text x="190.6" y="2580.6" font-size="12" fill="#88776C" text-anchor="start" font-family="'Liberation Sans', Arial, sans-serif" font-weight="normal">July</text>
<text x="238.7" y="2580.6" font-size="12" fill="#88776C" text-anchor="start" font-family="'Liberation Sans', Arial, sans-serif" font-weight="normal">August</text>
<text x="497.5" y="2415.9" font-size="12.5" fill="#88776C" text-anchor="end" font-family="'Liberation Sans', Arial, sans-serif" font-weight="normal">6000</text>
<text x="497.5" y="2436.1" font-size="12.5" fill="#88776C" text-anchor="end" font-family="'Liberation Sans', Arial, sans-serif" font-weight="normal">5000</text>
<text x="497.5" y="2455.7" font-size="12.5" fill="#88776C" text-anchor="end" font-family="'Liberation Sans', Arial, sans-serif" font-weight="normal">4000</text>
<text x="497.5" y="2476.5" font-size="12.5" fill="#88776C" text-anchor="end" font-family="'Liberation Sans', Arial, sans-serif" font-weight="normal">3000</text>
<text x="497.5" y="2496.7" font-size="12.5" fill="#88776C" text-anchor="end" font-family="'Liberation Sans', Arial, sans-serif" font-weight="normal">2000</text>
<text x="497.5" y="2516.9" font-size="12.5" fill="#88776C" text-anchor="end" font-family="'Liberation Sans', Arial, sans-serif" font-weight="normal">1000</text>
<text x="497.5" y="2537.1" font-size="12.5" fill="#88776C" text-anchor="end" font-family="'Liberation Sans', Arial, sans-serif" font-weight="normal">0</text>
<rect x="543.5" y="2428.5" width="77.6" height="104.1" fill="#A3292A"/>
<rect x="654.6" y="2436.7" width="77.6" height="95.9" fill="#0CFF00"/>
<text x="682.6" y="2393.0" font-size="12" fill="#141010" text-anchor="middle" font-family="'Liberation Sans', Arial, sans-serif" font-weight="normal">DOWN 7.70%</text>
<text x="571.3" y="2497.1" font-size="12" fill="#141010" text-anchor="middle" font-family="'Liberation Sans', Arial, sans-serif" font-weight="normal">5,155</text>
<text x="682.3" y="2497.1" font-size="12" fill="#141010" text-anchor="middle" font-family="'Liberation Sans', Arial, sans-serif" font-weight="normal">4,758</text>
<text x="642.6" y="2550.5" font-size="13" fill="#88776C" text-anchor="middle" font-family="'Liberation Sans', Arial, sans-serif" font-weight="normal">Active Listings</text>
<rect x="533.4" y="2566.0" width="11.4" height="11.4" fill="#A3292A"/>
<rect x="629.3" y="2566.0" width="11.4" height="11.4" fill="#0CFF00"/>
<text x="549.2" y="2576.0" font-size="12" fill="#88776C" text-anchor="start" font-family="'Liberation Sans', Arial, sans-serif" font-weight="normal">August 2014</text>
<text x="645.0" y="2576.0" font-size="12" fill="#88776C" text-anchor="start" font-family="'Liberation Sans', Arial, sans-serif" font-weight="normal">August 2015</text>
</svg>
</body></html>
